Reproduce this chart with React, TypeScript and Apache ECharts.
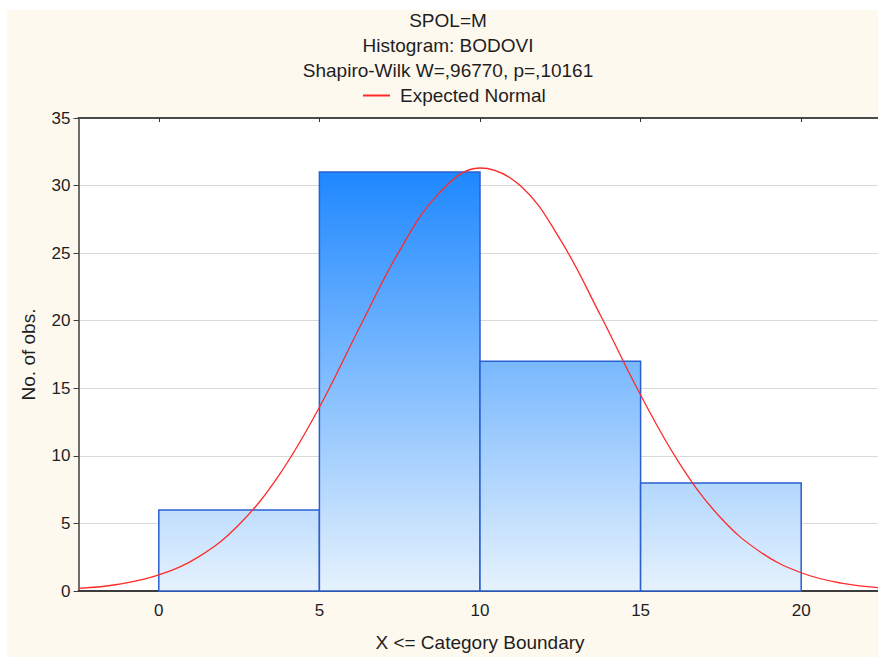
import React, { useEffect, useRef } from "react";
import * as echarts from "echarts";

const titleLines = ["SPOL=M", "Histogram: BODOVI", "Shapiro-Wilk W=,96770, p=,10161"];
const legendName = "Expected Normal";
const xAxisName = "X <= Category Boundary";
const yAxisName = "No. of obs.";

// histogram bins: lower bound, upper bound, count
const binLower = [0, 5, 10, 15];
const binUpper = [5, 10, 15, 20];
const binCounts = [6, 31, 17, 8];

const xTickValues = [0, 5, 10, 15, 20];

// expected normal curve
const curveX = [-2.5, -1.25, 0, 1.25, 2.5, 3.75, 5, 6.25, 7.5, 8.75, 10, 11.25, 12.5, 13.75, 15, 16.25, 17.5, 18.75, 20, 21.25, 22.5];
const curveY = [0.19, 0.5, 1.19, 2.54, 4.92, 8.6, 13.6, 19.5, 25.2, 29.5, 31.3, 30.0, 26.0, 20.4, 14.5, 9.3, 5.4, 2.85, 1.35, 0.58, 0.23];

const FONT = "'Liberation Sans', Arial, sans-serif";
const TEXT = "#1e1e1e";

export default function App() {
  const ref = useRef<HTMLDivElement>(null);
  useEffect(() => {
    if (!ref.current) return;
    const chart = echarts.init(ref.current, undefined, { renderer: "svg" });
    const maxCount = Math.max(...binCounts);
    const histData = binLower.map((lo, i) => [lo, binUpper[i], binCounts[i]]);
    const curveData = curveX.map((x, i) => [x, curveY[i]]);
    const centerX = 441;
    chart.setOption({
      animation: false,
      backgroundColor: "#fef9ef",
      textStyle: { fontFamily: FONT, color: TEXT },
      graphic: titleLines.map((t, i) => ({
        type: "text",
        x: centerX,
        y: 10.5 + i * 25,
        style: {
          text: t,
          fontSize: 19,
          fontFamily: FONT,
          fill: TEXT,
          align: "center",
          verticalAlign: "middle",
        },
      })),
      legend: {
        data: [legendName],
        left: 351,
        top: 71,
        icon: "rect",
        itemWidth: 27,
        itemHeight: 2,
        textStyle: { fontSize: 19, fontFamily: FONT, color: TEXT, padding: [0, 0, 0, 5] },
      },
      grid: {
        left: 71.5,
        top: 108,
        width: 803,
        height: 479,
        containLabel: false,
        show: true,
        backgroundColor: "#ffffff",
        borderWidth: 0,
      },
      xAxis: [
        {
          type: "value",
          min: -2.5,
          max: 22.5,
          position: "bottom",
          name: xAxisName,
          nameLocation: "middle",
          nameGap: 42,
          nameTextStyle: { fontSize: 19, fontFamily: FONT, color: TEXT },
          axisLine: { show: true, onZero: false, lineStyle: { color: "#3c3c3c", width: 2 } },
          axisTick: { show: false },
          axisLabel: {
            customValues: xTickValues,
            fontSize: 17,
            fontFamily: FONT,
            color: TEXT,
            margin: 11,
          },
          splitLine: { show: false },
        },
        {
          type: "value",
          min: -2.5,
          max: 22.5,
          position: "top",
          axisLine: { show: true, onZero: false, lineStyle: { color: "#4a4a4a", width: 2 } },
          axisTick: {
            show: true,
            inside: true,
            length: 4,
            customValues: xTickValues,
            lineStyle: { color: "#333" },
          },
          axisLabel: { show: false },
          splitLine: { show: false },
        },
      ],
      yAxis: {
        type: "value",
        min: 0,
        max: 35,
        interval: 5,
        name: yAxisName,
        nameLocation: "middle",
        nameGap: 41,
        nameTextStyle: { fontSize: 19, fontFamily: FONT, color: TEXT },
        axisLine: { show: true, onZero: false, lineStyle: { color: "#3c3c3c", width: 1.5 } },
        axisTick: { show: true, length: 5, lineStyle: { color: "#3c3c3c" } },
        axisLabel: { fontSize: 17, fontFamily: FONT, color: TEXT, margin: 8 },
        splitLine: { show: true, lineStyle: { color: "#d9d9d9", width: 1 } },
      },
      series: [
        {
          type: "custom",
          name: "hist",
          xAxisIndex: 0,
          data: histData,
          encode: { x: [0, 1], y: 2 },
          renderItem: (params: any, api: any) => {
            const p0 = api.coord([api.value(0), api.value(2)]);
            const p1 = api.coord([api.value(1), 0]);
            const topY = api.coord([0, maxCount])[1];
            const botY = api.coord([0, 0])[1];
            return {
              type: "rect",
              shape: { x: p0[0], y: p0[1], width: p1[0] - p0[0], height: p1[1] - p0[1] },
              style: {
                fill: new echarts.graphic.LinearGradient(
                  0,
                  topY,
                  0,
                  botY,
                  [
                    { offset: 0, color: "#1e88ff" },
                    { offset: 1, color: "#e6f2fd" },
                  ],
                  true
                ),
                stroke: "#2a5fd0",
                lineWidth: 1.5,
              },
            };
          },
          z: 2,
        },
        {
          type: "line",
          name: legendName,
          xAxisIndex: 0,
          data: curveData,
          smooth: 0.4,
          symbol: "none",
          showSymbol: false,
          lineStyle: { color: "#ff2a2a", width: 1.3 },
          itemStyle: { color: "#ff2a2a" },
          z: 3,
        },
      ],
    });
    return () => chart.dispose();
  }, []);
  return (
    <div
      style={{
        position: "absolute",
        left: 7,
        top: 10,
        width: 871,
        height: 647,
        overflow: "hidden",
      }}
    >
      <div ref={ref} style={{ width: 900, height: 647 }} />
    </div>
  );
}
